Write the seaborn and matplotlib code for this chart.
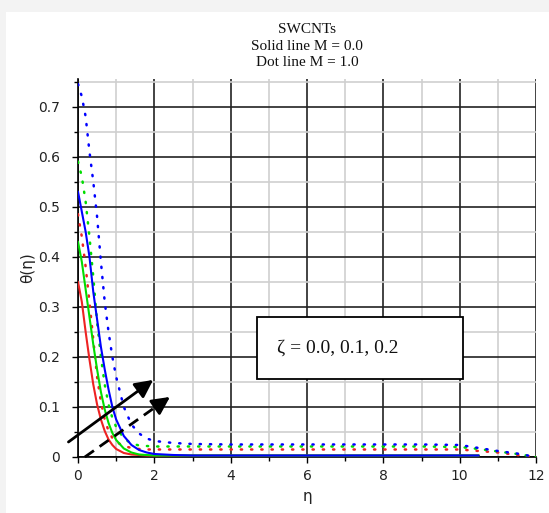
import numpy as np
import pandas as pd
import matplotlib
matplotlib.use("Agg")
import matplotlib.pyplot as plt
from matplotlib.patches import Rectangle
from matplotlib.ticker import MultipleLocator
import seaborn as sns

# similarity variable
eta = [0, 0.1, 0.2, 0.3, 0.4, 0.5, 0.6, 0.7, 0.8, 0.9, 1.0, 1.2, 1.4, 1.6, 1.8, 2.0,
       2.5, 3, 4, 5, 6, 7, 8, 9, 10, 10.5, 11, 11.5, 12]

nan = np.nan
# temperature profiles, M = 0.0 (solid)
theta_m0_z00 = [0.350, 0.310, 0.250, 0.195, 0.145, 0.105, 0.075, 0.052, 0.035, 0.024, 0.016,
                0.008, 0.005, 0.004, 0.003, 0.003, 0.003, 0.003, 0.003, 0.003, 0.003, 0.003,
                0.003, 0.003, 0.003, 0.003, nan, nan, nan]
theta_m0_z01 = [0.430, 0.390, 0.335, 0.280, 0.225, 0.175, 0.130, 0.095, 0.068, 0.048, 0.034,
                0.017, 0.009, 0.005, 0.004, 0.003, 0.003, 0.003, 0.003, 0.003, 0.003, 0.003,
                0.003, 0.003, 0.003, 0.003, nan, nan, nan]
theta_m0_z02 = [0.530, 0.490, 0.450, 0.400, 0.330, 0.275, 0.220, 0.175, 0.135, 0.100, 0.075,
                0.042, 0.024, 0.014, 0.009, 0.006, 0.004, 0.003, 0.003, 0.003, 0.003, 0.003,
                0.003, 0.003, 0.003, 0.003, nan, nan, nan]
# temperature profiles, M = 1.0 (dotted)
theta_m1_z00 = [0.485, 0.440, 0.380, 0.310, 0.235, 0.160, 0.110, 0.075, 0.052, 0.038, 0.030,
                0.022, 0.018, 0.016, 0.015, 0.015, 0.015, 0.015, 0.015, 0.015, 0.015, 0.015,
                0.015, 0.015, 0.015, 0.012, 0.009, 0.004, 0.0]
theta_m1_z01 = [0.590, 0.560, 0.510, 0.440, 0.360, 0.270, 0.200, 0.145, 0.105, 0.078, 0.060,
                0.037, 0.027, 0.023, 0.022, 0.021, 0.021, 0.021, 0.021, 0.021, 0.021, 0.021,
                0.021, 0.021, 0.020, 0.016, 0.011, 0.006, 0.0]
theta_m1_z02 = [0.745, 0.720, 0.680, 0.610, 0.550, 0.480, 0.390, 0.310, 0.250, 0.200, 0.160,
                0.100, 0.065, 0.047, 0.037, 0.032, 0.028, 0.026, 0.025, 0.025, 0.025, 0.025,
                0.025, 0.025, 0.024, 0.018, 0.012, 0.007, 0.0]

zeta_colors = ["#ee2222", "#00dd00", "#0000ff"]

title_lines = ["SWCNTs", "Solid line M = 0.0", "Dot line M = 1.0"]
box_text = "ζ = 0.0, 0.1, 0.2"

sns.set_theme(style="white")
plt.rcParams["font.family"] = ["DejaVu Sans"]

fig = plt.figure(figsize=(5.49, 5.13), dpi=100, facecolor="#f3f3f3")
# white page panel with a faint grey margin on the top and left
panel = Rectangle((6 / 549, 0), 1, 1 - 12 / 513, transform=fig.transFigure,
                  facecolor="white", edgecolor="none", zorder=-10)
fig.patches.append(panel)
ax = fig.add_axes([78 / 549, 56 / 513, 458 / 549, 378 / 513])
ax.set_zorder(5)
ax.set_facecolor("none")

dotted = [theta_m1_z00, theta_m1_z01, theta_m1_z02]
solid = [theta_m0_z00, theta_m0_z01, theta_m0_z02]

for vals, c in zip(dotted, zeta_colors):
    df = pd.DataFrame({"eta": eta, "theta": vals}).dropna()
    sns.lineplot(data=df, x="eta", y="theta", ax=ax, color=c, lw=1.8,
                 linestyle=(0, (0.5, 3.6)), dash_capstyle="round", zorder=3)
for vals, c in zip(solid, zeta_colors):
    df = pd.DataFrame({"eta": eta, "theta": vals}).dropna()
    sns.lineplot(data=df, x="eta", y="theta", ax=ax, color=c, lw=1.5, zorder=4)

ax.set_xlim(0, 12)
ax.set_ylim(0, 0.755)
ax.xaxis.set_major_locator(MultipleLocator(2))
ax.xaxis.set_minor_locator(MultipleLocator(1))
ax.yaxis.set_major_locator(MultipleLocator(0.1))
ax.yaxis.set_minor_locator(MultipleLocator(0.05))
ax.set_yticks(np.arange(0, 0.71, 0.1))
ax.set_yticklabels(["0", "0.1", "0.2", "0.3", "0.4", "0.5", "0.6", "0.7"])
ax.set_xticks(np.arange(0, 12.1, 2))
ax.set_xticklabels(["0", "2", "4", "6", "8", "10", "12"])

ax.grid(which="major", color="#222222", lw=1.2)
ax.grid(which="minor", color="#cfcfcf", lw=1.2)
ax.set_axisbelow(True)
for s in ["top", "right"]:
    ax.spines[s].set_visible(False)
for s in ["left", "bottom"]:
    ax.spines[s].set_color("black")
    ax.spines[s].set_linewidth(1.2)
ax.tick_params(which="both", direction="out", color="black", width=1.0, labelsize=10,
               labelcolor="#222222")
ax.tick_params(which="major", length=4, left=True, bottom=True)
ax.tick_params(which="minor", length=3, left=True, bottom=True)
ax.tick_params(axis="y", which="major", pad=9)
ax.tick_params(axis="x", which="major", pad=5)

ax.set_xlabel("η", fontsize=11, color="#222222")
ax.set_ylabel("θ(η)", fontsize=11, color="#222222")
ax.xaxis.set_label_coords(0.5, -0.085)
ax.yaxis.set_label_coords(-0.094, 0.5)

for i, line in enumerate(title_lines):
    fig.text(307 / 549, 1 - (29.5 + 16.5 * i) / 513, line, ha="center", va="center",
             fontsize=11, family="Liberation Serif", color="#111111")

# annotation box
ax.add_patch(Rectangle((4.70, 0.156), 5.39, 0.124, facecolor="white", edgecolor="black",
                       lw=1.3, zorder=6))
ax.text(5.21, 0.218, box_text, fontsize=14, family="Liberation Serif", va="center",
        ha="left", zorder=7, color="#111111")

# trend arrows
ax.annotate("", xy=(1.97, 0.154), xytext=(-0.25, 0.03), annotation_clip=False,
            arrowprops=dict(arrowstyle="-|>,head_length=0.9,head_width=0.45", lw=2,
                            color="black", shrinkA=0, shrinkB=0), zorder=8)
ax.plot([0.18, 2.2], [0.0, 0.109], color="black", lw=2, linestyle=(0, (4, 2.5)),
        clip_on=False, zorder=8)
ax.annotate("", xy=(2.41, 0.12), xytext=(2.1, 0.1035), annotation_clip=False,
            arrowprops=dict(arrowstyle="-|>,head_length=0.9,head_width=0.45", lw=2,
                            color="black", shrinkA=0, shrinkB=0), zorder=8)

fig.savefig("out.png", dpi=100, facecolor=fig.get_facecolor())
